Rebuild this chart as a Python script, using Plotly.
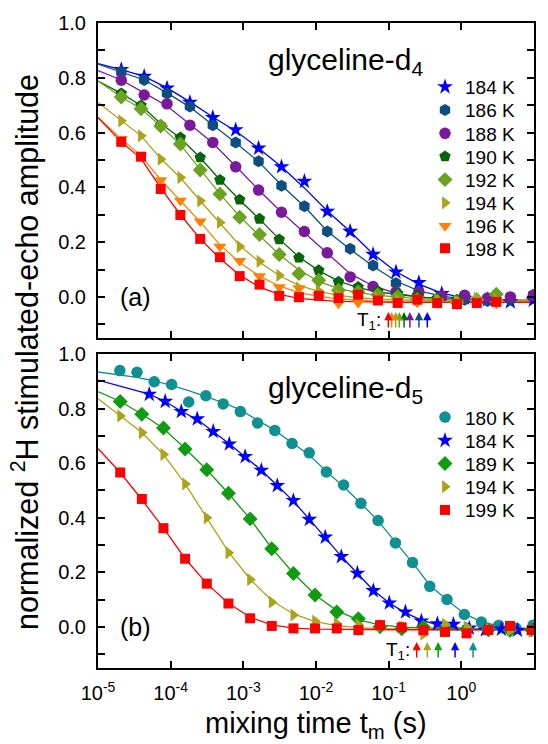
import numpy as np
import plotly.graph_objects as go

FONT = "Liberation Sans, Arial, sans-serif"

# ---------------- panel (a): glyceline-d4 ----------------
# mixing times (s) of the two measurement grids
t_a1 = [2.09e-5, 4.32e-5, 8.91e-5, 1.84e-4, 3.80e-4, 7.85e-4, 1.62e-3, 3.35e-3,
        6.92e-3, 1.43e-2, 2.95e-2, 6.10e-2, 0.126, 0.260, 0.537, 1.11, 2.29, 4.73, 9.77]
t_a2 = [2.09e-5, 3.91e-5, 7.29e-5, 1.36e-4, 2.55e-4, 4.76e-4, 8.91e-4, 1.67e-3,
        3.12e-3, 5.82e-3, 1.09e-2, 2.04e-2, 3.80e-2, 7.11e-2, 0.133, 0.248, 0.465,
        0.869, 1.63, 3.03]

temps_a = ["184 K", "186 K", "188 K", "190 K", "192 K", "194 K", "196 K", "198 K"]

amp_184a = [0.830, 0.805, 0.762, 0.710, 0.655, 0.610, 0.543, 0.475, 0.422, 0.312,
            0.239, 0.155, 0.091, 0.052, 0.012, -0.005, -0.010, -0.018, -0.012]
amp_186a = [0.822, 0.792, 0.743, 0.695, 0.627, 0.564, 0.495, 0.406, 0.331, 0.239,
            0.176, 0.115, 0.050, 0.018, 0.000, -0.010, -0.015, -0.010, 0.008]
amp_188a = [0.791, 0.737, 0.705, 0.627, 0.564, 0.475, 0.390, 0.309, 0.239, 0.161,
            0.073, 0.038, 0.018, 0.016, 0.004, 0.006, -0.004, 0.000, 0.005]
amp_190a = [0.743, 0.699, 0.627, 0.582, 0.509, 0.427, 0.355, 0.285, 0.210, 0.143,
            0.097, 0.055, 0.036, 0.021, 0.012, 0.005, -0.005, -0.010, -0.015, -0.012]
amp_192a = [0.730, 0.687, 0.624, 0.558, 0.463, 0.376, 0.291, 0.228, 0.155, 0.085,
            0.061, 0.024, 0.018, 0.008, 0.002, -0.010, -0.015, -0.020, -0.010, 0.010]
amp_194a = [0.643, 0.588, 0.503, 0.436, 0.351, 0.272, 0.184, 0.130, 0.079, 0.033,
            0.022, 0.006, 0.002, -0.005, -0.010, -0.012, -0.012, -0.015, -0.005, -0.010]
amp_196a = [0.577, 0.517, 0.426, 0.352, 0.276, 0.184, 0.132, 0.076, 0.036, 0.032,
            0.006, -0.024, -0.021, -0.005, -0.015, -0.020, -0.015, -0.020, -0.020, -0.025]
amp_198a = [0.566, 0.512, 0.394, 0.299, 0.212, 0.145, 0.076, 0.045, 0.004, -0.001,
            0.004, -0.004, 0.008, -0.013, -0.022, -0.010, -0.022, -0.026, -0.022, -0.018]

# fitted curves: value at 1e-5 s, at each measured time, and at 10 s
fit_184a = [0.852, 0.830, 0.805, 0.763, 0.712, 0.657, 0.606, 0.543, 0.475, 0.398, 0.314,
            0.239, 0.157, 0.092, 0.047, 0.014, -0.004, -0.012, -0.015, -0.016, -0.016]
fit_186a = [0.850, 0.822, 0.792, 0.745, 0.693, 0.628, 0.563, 0.494, 0.408, 0.330, 0.240,
            0.174, 0.112, 0.058, 0.022, 0.003, -0.008, -0.013, -0.015, -0.016, -0.016]
fit_188a = [0.826, 0.792, 0.745, 0.697, 0.630, 0.562, 0.477, 0.391, 0.309, 0.234, 0.160,
            0.085, 0.040, 0.013, 0.000, -0.007, -0.010, -0.012, -0.013, -0.013, -0.013]
fit_190a = [0.788, 0.743, 0.699, 0.633, 0.580, 0.508, 0.428, 0.354, 0.284, 0.211, 0.146,
            0.096, 0.058, 0.034, 0.018, 0.008, 0.000, -0.006, -0.010, -0.012, -0.013, -0.013]
fit_192a = [0.788, 0.730, 0.687, 0.624, 0.556, 0.465, 0.376, 0.293, 0.224, 0.155, 0.098,
            0.057, 0.030, 0.016, 0.006, -0.001, -0.006, -0.009, -0.011, -0.012, -0.013, -0.013]
fit_194a = [0.710, 0.643, 0.588, 0.505, 0.435, 0.351, 0.271, 0.188, 0.127, 0.078, 0.042,
            0.020, 0.006, -0.003, -0.008, -0.011, -0.013, -0.014, -0.015, -0.015, -0.015, -0.015]
fit_196a = [0.655, 0.577, 0.515, 0.428, 0.351, 0.274, 0.190, 0.126, 0.076, 0.040, 0.016,
            0.002, -0.007, -0.012, -0.015, -0.017, -0.018, -0.018, -0.018, -0.018, -0.018, -0.018]
fit_198a = [0.655, 0.566, 0.505, 0.398, 0.300, 0.212, 0.140, 0.079, 0.036, 0.009, -0.005,
            -0.012, -0.016, -0.018, -0.019, -0.020, -0.020, -0.020, -0.020, -0.020, -0.020, -0.020]

# spin-lattice relaxation times T1 (s), same order as temps_a
t1_a = [0.34, 0.261, 0.196, 0.163, 0.14, 0.125, 0.11, 0.099]

# ---------------- panel (b): glyceline-d5 ----------------
t_b180 = [2.00e-5, 3.44e-5, 5.94e-5, 1.03e-4, 1.77e-4, 3.05e-4, 5.27e-4, 9.10e-4,
          1.57e-3, 2.71e-3, 4.68e-3, 8.07e-3, 1.39e-2, 2.40e-2, 4.15e-2, 7.16e-2,
          0.124, 0.213, 0.368, 0.635, 1.10, 1.89, 3.27, 5.64, 9.73]
t_b184 = [5.07e-5, 8.41e-5, 1.40e-4, 2.32e-4, 3.85e-4, 6.40e-4, 1.06e-3, 1.77e-3,
          2.93e-3, 4.88e-3, 8.09e-3, 1.34e-2, 2.23e-2, 3.71e-2, 6.15e-2, 0.102,
          0.170, 0.282, 0.468, 0.778, 1.29, 2.14, 3.56, 5.92, 9.82]
t_b3 = [2.02e-5, 4.01e-5, 7.96e-5, 1.58e-4, 3.14e-4, 6.24e-4, 1.24e-3, 2.46e-3,
        4.89e-3, 9.70e-3, 1.93e-2, 3.83e-2, 7.60e-2, 0.151, 0.300, 0.596, 1.18,
        2.35, 4.67, 9.27]

temps_b = ["180 K", "184 K", "189 K", "194 K", "199 K"]

amp_180b = [0.939, 0.933, 0.898, 0.888, 0.824, 0.847, 0.817, 0.789, 0.747, 0.720,
            0.672, 0.638, 0.568, 0.520, 0.453, 0.390, 0.308, 0.236, 0.149, 0.101,
            0.046, 0.018, 0.006, -0.004, 0.007]
amp_184b = [0.852, 0.826, 0.789, 0.762, 0.716, 0.670, 0.624, 0.574, 0.518, 0.463,
            0.394, 0.329, 0.258, 0.197, 0.133, 0.088, 0.055, 0.022, 0.012, 0.010,
            -0.004, -0.011, -0.008, -0.012, -0.013]
amp_189b = [0.826, 0.779, 0.729, 0.652, 0.576, 0.490, 0.396, 0.287, 0.196, 0.117,
            0.055, 0.030, 0.001, -0.006, 0.000, -0.005, -0.008, -0.010, -0.012, -0.010]
amp_194b = [0.773, 0.712, 0.632, 0.524, 0.400, 0.272, 0.174, 0.091, 0.044, 0.022,
            0.012, 0.008, 0.004, 0.000, -0.026, 0.010, 0.000, -0.008, -0.012, -0.015]
amp_199b = [0.566, 0.469, 0.362, 0.250, 0.159, 0.086, 0.032, 0.004, -0.005, -0.005,
            -0.005, -0.011, 0.007, -0.001, -0.012, -0.018, -0.023, -0.011, 0.004, -0.011]

fit_180b = [0.934, 0.924, 0.914, 0.901, 0.885, 0.866, 0.845, 0.822, 0.795, 0.757, 0.720,
            0.675, 0.630, 0.570, 0.514, 0.453, 0.389, 0.311, 0.236, 0.153, 0.099, 0.049,
            0.019, 0.004, -0.004, -0.007, -0.008]
fit_184b = [0.904, 0.853, 0.826, 0.790, 0.760, 0.717, 0.671, 0.623, 0.574, 0.518, 0.461,
            0.395, 0.328, 0.259, 0.196, 0.135, 0.088, 0.052, 0.025, 0.008, -0.002, -0.007,
            -0.009, -0.010, -0.010, -0.010, -0.010]
fit_189b = [0.862, 0.826, 0.780, 0.727, 0.654, 0.576, 0.489, 0.396, 0.289, 0.197, 0.118,
            0.060, 0.026, 0.008, 0.000, -0.004, -0.006, -0.007, -0.008, -0.008, -0.008, -0.008]
fit_194b = [0.836, 0.773, 0.712, 0.632, 0.524, 0.400, 0.275, 0.175, 0.097, 0.048, 0.020,
            0.005, -0.002, -0.006, -0.008, -0.009, -0.010, -0.010, -0.010, -0.010, -0.010, -0.010]
fit_199b = [0.654, 0.566, 0.467, 0.362, 0.251, 0.159, 0.087, 0.036, 0.008, -0.004, -0.008,
            -0.009, -0.010, -0.010, -0.010, -0.010, -0.010, -0.010, -0.010, -0.010, -0.010, -0.010]

t1_b = [1.45, 0.82, 0.48, 0.34, 0.243]

# axis ticks
x_ticks = [1e-5, 1e-4, 1e-3, 1e-2, 1e-1, 1e0, 1e1]
x_ticktext = ["10<sup>-5</sup>", "10<sup>-4</sup>", "10<sup>-3</sup>", "10<sup>-2</sup>",
              "10<sup>-1</sup>", "10<sup>0</sup>", "10<sup>1</sup>"]

T_START, T_END = 1e-5, 10.0

# series styling: times, amplitudes, fit, colour, symbol, marker size
series_a = [
    (t_a1, amp_184a, fit_184a, "#0000ff", "star", 12),
    (t_a1, amp_186a, fit_186a, "#0d4e80", "hexagon", 12),
    (t_a1, amp_188a, fit_188a, "#7a1a9a", "circle", 11.5),
    (t_a2, amp_190a, fit_190a, "#086408", "pentagon", 12),
    (t_a2, amp_192a, fit_192a, "#6aa31f", "diamond", 11.5),
    (t_a2, amp_194a, fit_194a, "#aaa31c", "triangle-right", 11.5),
    (t_a2, amp_196a, fit_196a, "#ff8000", "triangle-down", 11.5),
    (t_a2, amp_198a, fit_198a, "#ff0000", "square", 10),
]
series_b = [
    (t_b180, amp_180b, fit_180b, "#109090", "circle", 11.5),
    (t_b184, amp_184b, fit_184b, "#0000ff", "star", 12),
    (t_b3, amp_189b, fit_189b, "#109c10", "diamond", 11.5),
    (t_b3, amp_194b, fit_194b, "#aaa31c", "triangle-right", 11.5),
    (t_b3, amp_199b, fit_199b, "#ff0000", "square", 10),
]

# one single-entry legend per series so the entry spacing can be set freely
legend_y_a = [0.9302, 0.8943, 0.8582, 0.8223, 0.7864, 0.7504, 0.7145, 0.6801]
legend_y_b = [0.4182, 0.3821, 0.3462, 0.3103, 0.2743]
LEGEND_X = 0.750

fig = go.Figure()
legend_layout = {}
legend_count = [0]


def next_legend(ypos):
    legend_count[0] += 1
    n = legend_count[0]
    key = "legend" if n == 1 else f"legend{n}"
    legend_layout[key] = dict(x=LEGEND_X, y=ypos, xanchor="left", yanchor="top",
                              bgcolor="rgba(0,0,0,0)", borderwidth=0,
                              font=dict(size=19))
    return key


def add_panel(series, labels, legend_y, xa, ya):
    # fit curves underneath the data points
    for t, amp, fit, col, sym, sz in series:
        fig.add_trace(go.Scatter(
            x=[T_START] + list(t) + [T_END], y=fit, mode="lines",
            line=dict(color=col, width=1.3), showlegend=False,
            xaxis=xa, yaxis=ya, hoverinfo="skip"))
    for (t, amp, fit, col, sym, sz), lab, ly in zip(series, labels, legend_y):
        fig.add_trace(go.Scatter(
            x=t, y=amp, mode="markers", name=lab,
            marker=dict(symbol=sym, size=sz, color=col, line=dict(width=0)),
            xaxis=xa, yaxis=ya, legend=next_legend(ly)))


add_panel(series_a, temps_a, legend_y_a, "x", "y")
add_panel(series_b, temps_b, legend_y_b, "x2", "y2")

axis_common = dict(showline=True, linewidth=2, linecolor="black", mirror="allticks",
                   ticks="inside", ticklen=7, tickwidth=1.5, tickcolor="black",
                   showgrid=False, zeroline=False)
xaxis_common = dict(type="log", range=[-5, 1], tickvals=x_ticks, ticktext=x_ticktext,
                    **axis_common)
yaxis_common = dict(range=[-0.15, 1.0], tick0=0, dtick=0.2, tickformat=".1f",
                    minor=dict(dtick=0.1, tick0=0, ticks="inside", ticklen=7,
                               tickwidth=1.5, tickcolor="black"),
                    ticklabelstandoff=6, **axis_common)

annotations = [
    dict(text="normalized <sup>2</sup>H stimulated-echo amplitude", xref="paper",
         yref="paper", x=-0.165, y=0.49, textangle=-90, showarrow=False,
         font=dict(size=30.5), xanchor="center", yanchor="middle"),
    dict(text="mixing time t<sub>m</sub> (s)", xref="paper", yref="paper", x=0.5,
         y=-0.088, showarrow=False, font=dict(size=29), xanchor="center",
         yanchor="middle"),
    dict(text="glyceline-d<sub>4</sub>", xref="x domain", yref="y domain", x=0.385,
         y=0.877, showarrow=False, font=dict(size=30), xanchor="left", yanchor="middle"),
    dict(text="glyceline-d<sub>5</sub>", xref="x2 domain", yref="y2 domain", x=0.385,
         y=0.888, showarrow=False, font=dict(size=30), xanchor="left", yanchor="middle"),
    dict(text="(a)", xref="x domain", yref="y", x=0.085, y=0.0, showarrow=False,
         font=dict(size=25), xanchor="center", yanchor="middle"),
    dict(text="(b)", xref="x2 domain", yref="y2", x=0.085, y=0.0, showarrow=False,
         font=dict(size=25), xanchor="center", yanchor="middle"),
    dict(text="T<sub>1</sub>:", xref="x", yref="y", x=-1.08, y=-0.088, showarrow=False,
         font=dict(size=19), xanchor="right", yanchor="middle"),
    dict(text="T<sub>1</sub>:", xref="x2", yref="y2", x=-0.68, y=-0.088, showarrow=False,
         font=dict(size=19), xanchor="right", yanchor="middle"),
]

# T1 arrows
for (t, amp, fit, col, sym, sz), t1 in zip(series_a, t1_a):
    annotations.append(dict(x=np.log10(t1), y=-0.055, xref="x", yref="y", text="",
                            showarrow=True, ax=0, ay=17, arrowhead=2, arrowsize=1.1,
                            arrowwidth=1.5, arrowcolor=col))
for (t, amp, fit, col, sym, sz), t1 in zip(series_b, t1_b):
    annotations.append(dict(x=np.log10(t1), y=-0.055, xref="x2", yref="y2", text="",
                            showarrow=True, ax=0, ay=17, arrowhead=2, arrowsize=1.1,
                            arrowwidth=1.5, arrowcolor=col))

fig.update_layout(
    width=548, height=744,
    margin=dict(l=98, r=14, t=19, b=76),
    paper_bgcolor="white", plot_bgcolor="white",
    font=dict(family=FONT, color="black", size=20),
    xaxis=dict(domain=[0, 1], anchor="y", showticklabels=False, **xaxis_common),
    yaxis=dict(domain=[0.5116, 1], anchor="x", **yaxis_common),
    xaxis2=dict(domain=[0, 1], anchor="y2", ticklabelstandoff=6, **xaxis_common),
    yaxis2=dict(domain=[0, 0.4869], anchor="x2", **yaxis_common),
    annotations=annotations,
    **legend_layout,
)

fig.write_html("out.html")
